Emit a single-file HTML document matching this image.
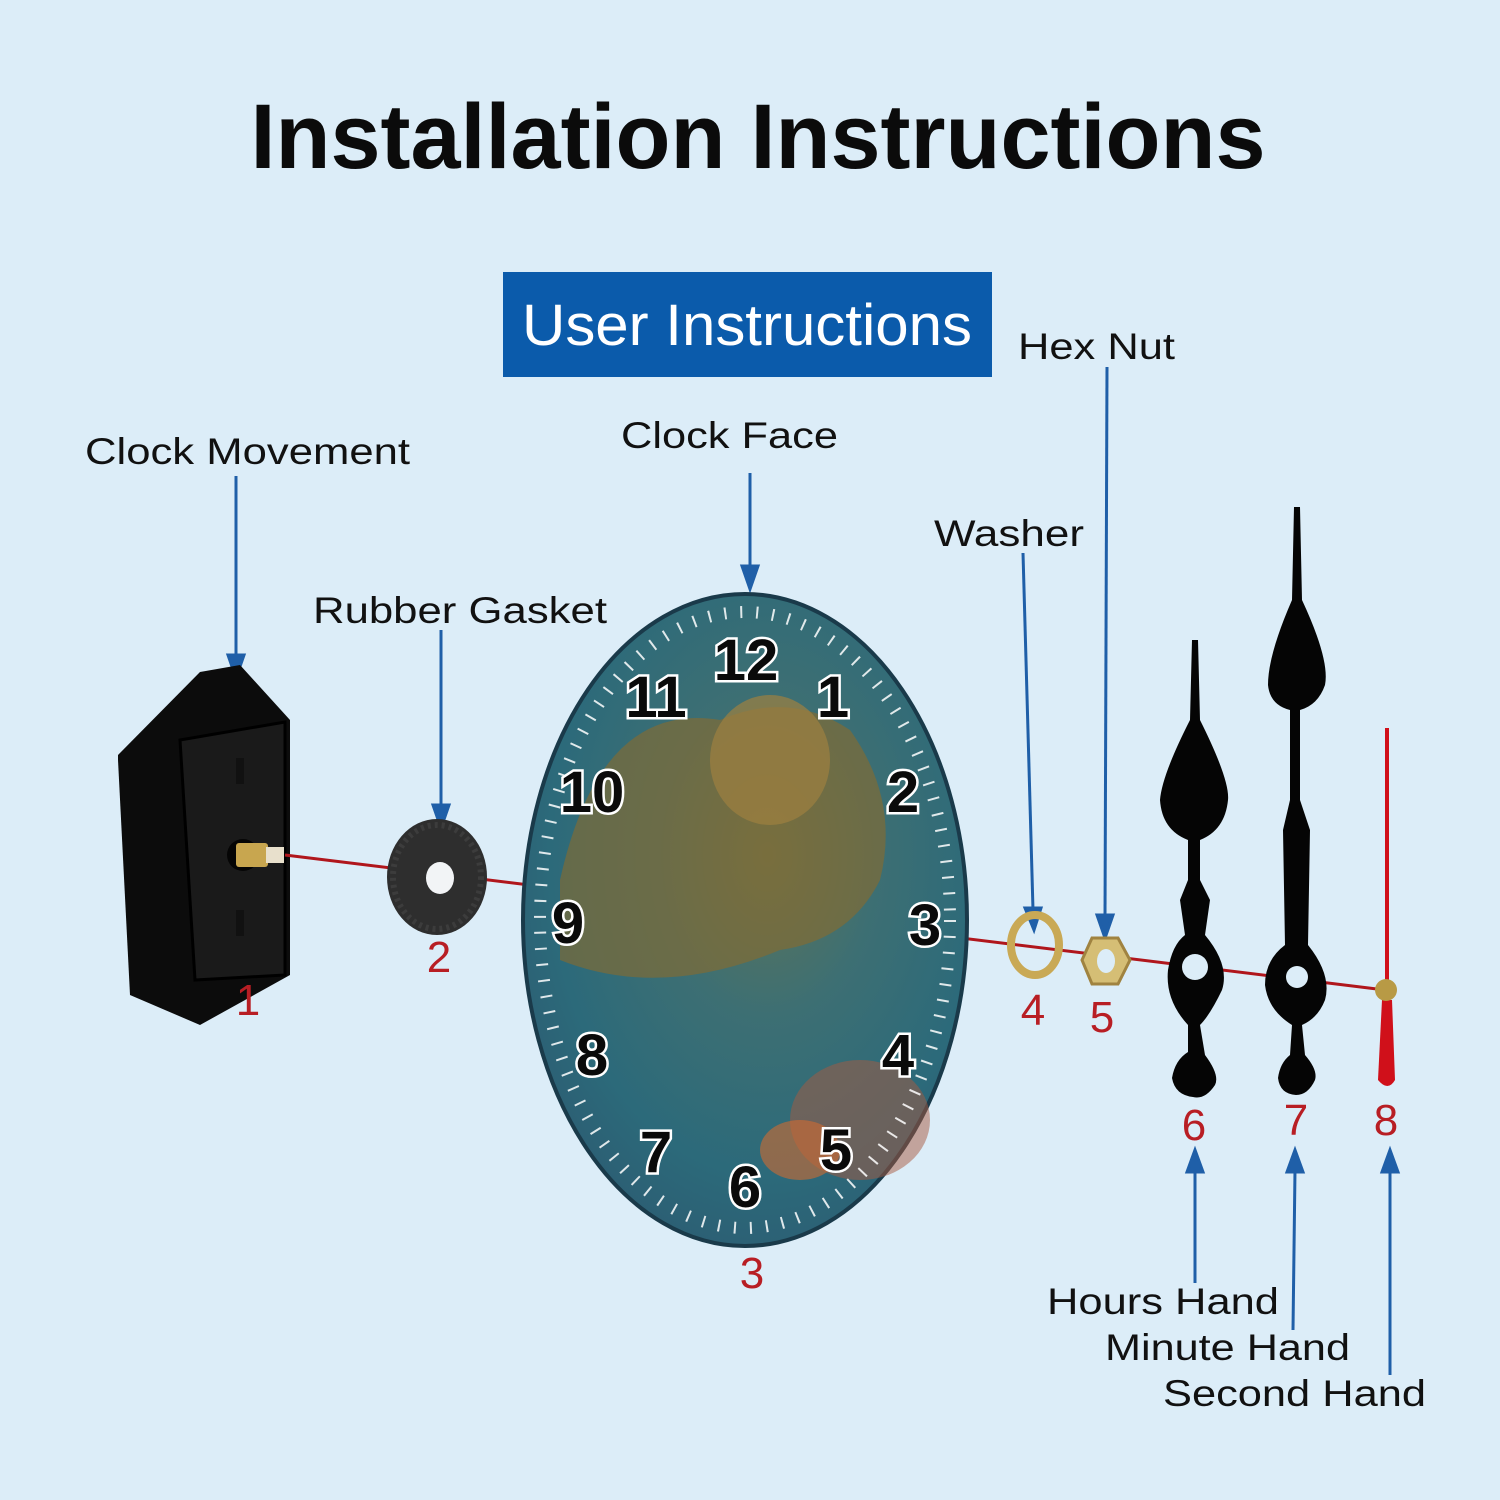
<!DOCTYPE html>
<html><head><meta charset="utf-8"><style>
html,body{margin:0;padding:0;background:#dcedf8}
svg{display:block}
text{font-family:"Liberation Sans",sans-serif}
</style></head><body>
<svg width="1500" height="1500" viewBox="0 0 1500 1500" xmlns="http://www.w3.org/2000/svg">
<defs>
<radialGradient id="face" cx="0.55" cy="0.4" r="0.7">
<stop offset="0" stop-color="#5e7458"/><stop offset="0.35" stop-color="#3d6f73"/><stop offset="0.7" stop-color="#2c6a7a"/><stop offset="1" stop-color="#2b5870"/></radialGradient>
</defs>
<rect width="1500" height="1500" fill="#dcedf8"/>
<text x="758" y="168" text-anchor="middle" font-size="92" font-weight="bold" fill="#0b0b0b" textLength="1015" lengthAdjust="spacingAndGlyphs">Installation Instructions</text>
<rect x="503" y="272" width="489" height="105" fill="#0b5bab"/>
<text x="747" y="345" text-anchor="middle" font-size="58" fill="#fff" textLength="450" lengthAdjust="spacingAndGlyphs">User Instructions</text>

<g font-size="37" fill="#111">
<text x="85" y="464" textLength="325" lengthAdjust="spacingAndGlyphs">Clock Movement</text>
<text x="313" y="623" textLength="294" lengthAdjust="spacingAndGlyphs">Rubber Gasket</text>
<text x="621" y="448" textLength="217" lengthAdjust="spacingAndGlyphs">Clock Face</text>
<text x="934" y="546" textLength="150" lengthAdjust="spacingAndGlyphs">Washer</text>
<text x="1018" y="359" textLength="157" lengthAdjust="spacingAndGlyphs">Hex Nut</text>
<text x="1047" y="1314" textLength="232" lengthAdjust="spacingAndGlyphs">Hours Hand</text>
<text x="1105" y="1360" textLength="245" lengthAdjust="spacingAndGlyphs">Minute Hand</text>
<text x="1163" y="1406" textLength="263" lengthAdjust="spacingAndGlyphs">Second Hand</text>
</g>

<g stroke="#1f5fa8" stroke-width="3" fill="#1f5fa8">
<line x1="236" y1="476" x2="236" y2="660"/><path d="M228,655 L244,655 L236,678 Z"/>
<line x1="441" y1="630" x2="441" y2="808"/><path d="M433,805 L449,805 L441,828 Z"/>
<line x1="750" y1="473" x2="750" y2="568"/><path d="M742,566 L758,566 L750,589 Z"/>
<line x1="1023" y1="553" x2="1033" y2="910"/><path d="M1025,908 L1041,908 L1034,930 Z"/>
<line x1="1107" y1="367" x2="1105" y2="918"/><path d="M1097,915 L1113,915 L1105,938 Z"/>
<line x1="1195" y1="1170" x2="1195" y2="1283"/><path d="M1187,1172 L1203,1172 L1195,1150 Z"/>
<line x1="1295" y1="1170" x2="1293" y2="1330"/><path d="M1287,1172 L1303,1172 L1295,1150 Z"/>
<line x1="1390" y1="1170" x2="1390" y2="1375"/><path d="M1382,1172 L1398,1172 L1390,1150 Z"/>
</g>

<!-- movement -->
<path d="M118,755 L200,672 L240,665 L290,720 L290,975 L200,1025 L130,995 L118,760 Z" fill="#0c0c0c"/>
<path d="M180,740 L285,722 L285,975 L195,980 Z" fill="#1a1a1a" stroke="#000" stroke-width="3"/>
<rect x="236" y="758" width="8" height="26" fill="#111"/>
<rect x="236" y="910" width="8" height="26" fill="#111"/>
<circle cx="243" cy="855" r="16" fill="#050505"/>
<rect x="236" y="843" width="32" height="24" rx="3" fill="#c8a64f"/>
<rect x="266" y="847" width="18" height="16" fill="#e8e0cc"/>

<line x1="285" y1="855" x2="1385" y2="990" stroke="#b0161c" stroke-width="3"/>

<!-- gasket -->
<ellipse cx="437" cy="877" rx="50" ry="58" fill="#2e2e2e"/>
<ellipse cx="437" cy="877" rx="44" ry="52" fill="none" stroke="#3c3c3c" stroke-width="6" stroke-dasharray="3 4"/>
<ellipse cx="440" cy="878" rx="14" ry="16" fill="#f2f4f6"/>

<!-- clock face -->
<ellipse cx="745" cy="920" rx="222" ry="326" fill="url(#face)"/>
<ellipse cx="745" cy="920" rx="222" ry="326" fill="none" stroke="#1a3a4a" stroke-width="4"/>
<path d="M560,880 Q600,700 720,720 Q790,690 850,730 Q900,800 880,880 Q850,940 780,950 Q660,1000 560,960 Z" fill="#8a6a2c" opacity="0.6"/>
<ellipse cx="770" cy="760" rx="60" ry="65" fill="#9e8040" opacity="0.7"/>
<ellipse cx="860" cy="1120" rx="70" ry="60" fill="#a85a40" opacity="0.5"/>
<ellipse cx="800" cy="1150" rx="40" ry="30" fill="#d06a30" opacity="0.6"/>
<ellipse cx="745" cy="920" rx="205" ry="308" fill="none" stroke="#fff" stroke-width="12" stroke-dasharray="2 14" opacity="0.85"/>
<g font-size="58" font-weight="bold" fill="#0a0a0a" stroke="#fff" stroke-width="5" paint-order="stroke" text-anchor="middle">
<text x="746" y="680">12</text>
<text x="833" y="717">1</text>
<text x="903" y="812">2</text>
<text x="925" y="945">3</text>
<text x="898" y="1075">4</text>
<text x="836" y="1170">5</text>
<text x="745" y="1207">6</text>
<text x="656" y="1172">7</text>
<text x="592" y="1075">8</text>
<text x="568" y="943">9</text>
<text x="592" y="812">10</text>
<text x="656" y="717">11</text>
</g>

<!-- washer & nut -->
<ellipse cx="1035" cy="945" rx="24" ry="30" fill="none" stroke="#c9a955" stroke-width="8"/>
<path d="M1092,938 L1118,938 L1130,960 L1118,984 L1092,984 L1082,960 Z" fill="#d5be75" stroke="#a08340" stroke-width="3"/>
<ellipse cx="1106" cy="961" rx="9" ry="12" fill="#dcedf8"/>

<!-- hour hand -->
<path d="M1192,640 L1198,640 L1200,720 Q1230,780 1228,800 Q1225,830 1200,840 L1200,880 L1210,900 L1205,935 Q1230,965 1222,990 Q1210,1015 1200,1025 L1205,1055 Q1220,1075 1215,1085 Q1205,1100 1193,1097 Q1175,1095 1172,1078 Q1175,1060 1188,1052 L1188,1025 Q1165,1000 1168,970 Q1172,945 1185,935 L1180,900 L1188,880 L1188,840 Q1162,830 1160,800 Q1162,775 1190,720 Z" fill="#050505"/>
<circle cx="1195" cy="967" r="13" fill="#dcedf8"/>
<!-- minute hand -->
<path d="M1294,507 L1300,507 L1302,600 Q1330,660 1325,685 Q1318,705 1300,710 L1300,800 L1310,830 L1308,945 Q1332,975 1325,1000 Q1318,1018 1302,1025 L1305,1055 Q1318,1070 1315,1080 Q1308,1095 1296,1095 Q1280,1094 1278,1078 Q1280,1063 1290,1055 L1292,1025 Q1268,1010 1265,985 Q1265,960 1285,945 L1283,830 L1290,800 L1290,710 Q1270,705 1268,685 Q1268,655 1292,600 Z" fill="#050505"/>
<circle cx="1297" cy="977" r="11" fill="#dcedf8"/>
<!-- second hand -->
<line x1="1387" y1="728" x2="1387" y2="990" stroke="#d0101a" stroke-width="4"/>
<path d="M1382,1000 L1392,1000 L1395,1080 Q1388,1092 1378,1080 Z" fill="#d0101a"/>
<circle cx="1386" cy="990" r="11" fill="#b89a45"/>

<g font-size="44" fill="#b81e24" text-anchor="middle">
<text x="248" y="1015">1</text>
<text x="439" y="972">2</text>
<text x="752" y="1288">3</text>
<text x="1033" y="1025">4</text>
<text x="1102" y="1032">5</text>
<text x="1194" y="1140">6</text>
<text x="1296" y="1135">7</text>
<text x="1386" y="1135">8</text>
</g>
</svg>
</body></html>
